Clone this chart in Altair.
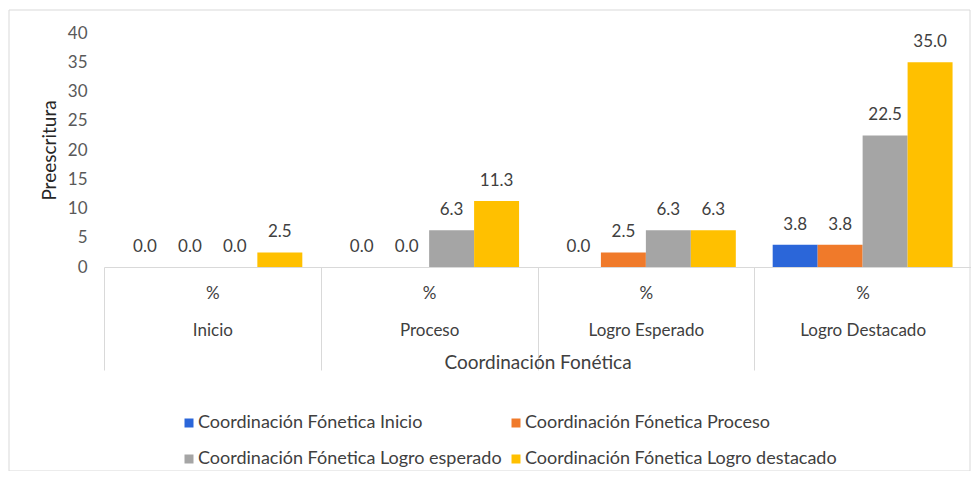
import altair as alt
import pandas as pd

groups = ["Inicio", "Proceso", "Logro Esperado", "Logro Destacado"]
series = [
    "Coordinación Fónetica Inicio",
    "Coordinación Fónetica Proceso",
    "Coordinación Fónetica Logro esperado",
    "Coordinación Fónetica Logro destacado",
]
colors = ["#2B66D9", "#F07A2A", "#A5A5A5", "#FFC000"]
v_inicio = [0.0, 0.0, 0.0, 3.8]
v_proceso = [0.0, 0.0, 2.5, 3.8]
v_esperado = [0.0, 6.3, 6.3, 22.5]
v_destacado = [2.5, 11.3, 6.3, 35.0]
y_ticks = [0, 5, 10, 15, 20, 25, 30, 35, 40]

rows = []
for s, vals in zip(series, [v_inicio, v_proceso, v_esperado, v_destacado]):
    for g, v in zip(groups, vals):
        rows.append({"grupo": g, "serie": s, "valor": v})
df = pd.DataFrame(rows)

FONT = "Lato"
W, H = 867, 234

x_enc = alt.X(
    "grupo:N",
    sort=groups,
    scale=alt.Scale(paddingInner=0, paddingOuter=0),
    axis=alt.Axis(
        title="Coordinación Fonética",
        titleFont=FONT, titleFontSize=19, titleFontWeight="normal", titleColor="#404040",
        titleY=95, titleBaseline="middle",
        labelExpr="datum.label ? ['%', datum.label] : ''",
        labelLineHeight=37,
        labelPadding=-85,
        labelFont=FONT, labelFontSize=17, labelColor="#404040",
        labelAngle=0, labelOverlap=False,
        tickBand="extent", tickSize=103, tickColor="#D9D9D9",
        domainColor="#D9D9D9",
    ),
)
xoff = alt.XOffset("serie:N", sort=series,
                   scale=alt.Scale(domain=series, paddingInner=0, paddingOuter=0.41))
y_enc = alt.Y(
    "valor:Q",
    scale=alt.Scale(domain=[0, 40]),
    axis=alt.Axis(
        title="Preescritura", values=y_ticks, grid=False, domain=False, ticks=False,
        labelOverlap=False,
        labelPadding=17, labelFont=FONT, labelFontSize=17, labelColor="#595959",
        titleFont=FONT, titleFontSize=19, titleFontWeight="normal", titleColor="#262626",
        titleX=-55, titleY=117, titleBaseline="middle",
    ),
)

base = alt.Chart(df)
bars = base.mark_bar().encode(
    x=x_enc, xOffset=xoff, y=y_enc,
    color=alt.Color(
        "serie:N",
        scale=alt.Scale(domain=series, range=colors),
        legend=alt.Legend(
            title=None, orient="none", legendX=76, legendY=381, columns=2,
            direction="horizontal",
            symbolType="square", symbolSize=81, symbolStrokeWidth=0,
            labelFont=FONT, labelFontSize=18, labelColor="#404040", labelOffset=0,
            rowPadding=18, columnPadding=5, labelLimit=400,
        ),
    ),
)
labels = base.mark_text(baseline="alphabetic", dy=-15, font=FONT, fontSize=17, color="#404040").encode(
    x=x_enc, xOffset=xoff, y=y_enc,
    text=alt.Text("valor:Q", format=".1f"),
)
frame = alt.Chart(pd.DataFrame({"k": [0]})).mark_rect(fill=None, stroke="#D9D9D9", strokeWidth=1).encode(
    x=alt.value(-95), x2=alt.value(866), y=alt.value(-23), y2=alt.value(438)
)

chart = (
    alt.layer(frame, bars, labels)
    .properties(width=W, height=H, padding={"left": 96, "top": 25, "right": 0, "bottom": 204},
                autosize=alt.AutoSizeParams(type="none"))
    .configure_view(stroke=None)
)
chart.save("out.html", embed_options={"renderer": "svg", "actions": False})
